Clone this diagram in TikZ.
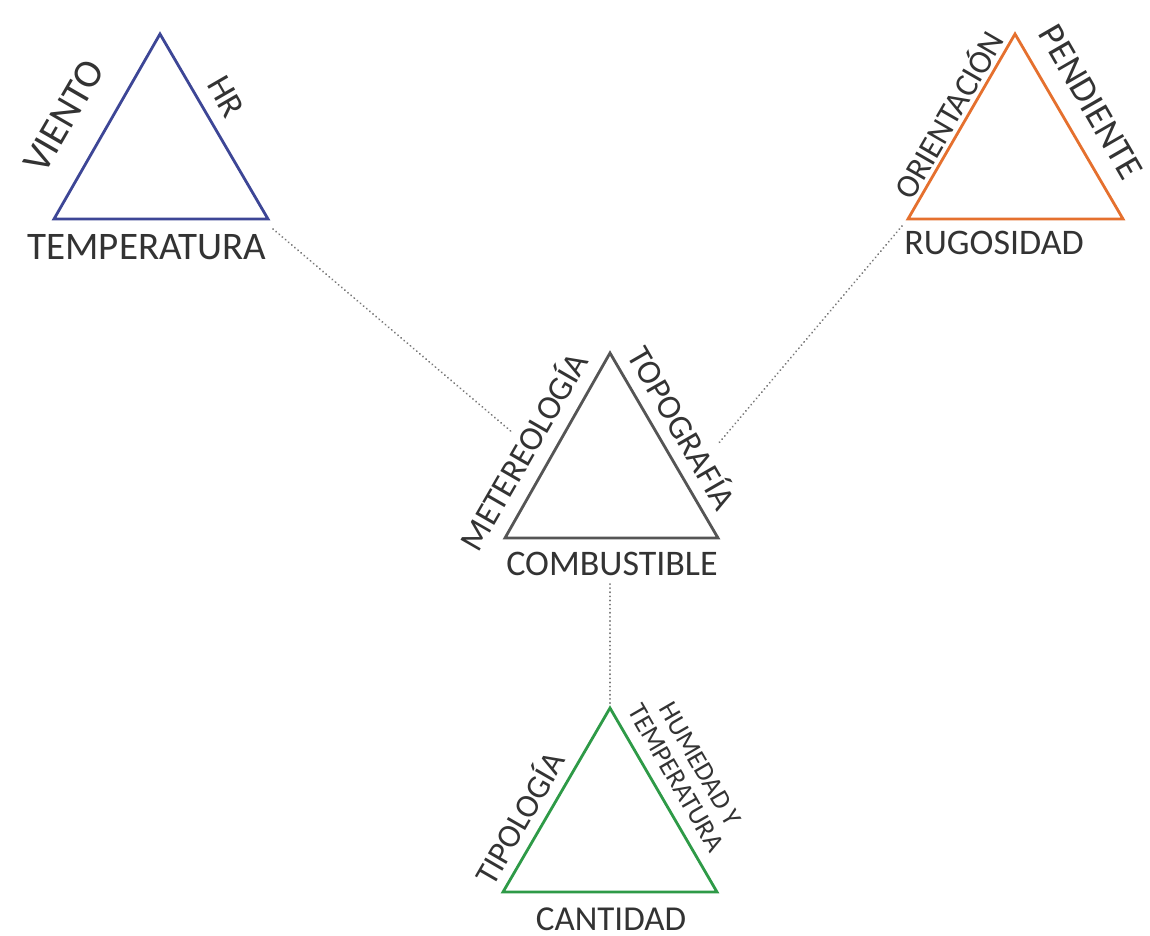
\documentclass[tikz,border=0pt]{standalone}
\usepackage{fontspec}
\setmainfont{Carlito}
\definecolor{tblue}{HTML}{3D4696}
\definecolor{torange}{HTML}{E5702E}
\definecolor{tgray}{HTML}{555555}
\definecolor{tgreen}{HTML}{2E9A47}
\definecolor{txt}{HTML}{333333}
\definecolor{tdot}{HTML}{777777}
\begin{document}
\begin{tikzpicture}[x=1pt,y=-1pt,
  tri/.style={line width=2.8pt, line join=miter},
  lbl/.style={text=txt, inner sep=0pt, font=\fontsize{#1}{#1}\selectfont},
  lbl/.default=35,
  dots/.style={draw=tdot, line width=2pt, dash pattern=on 0.1pt off 4pt, line cap=round}]
\useasboundingbox (0,0) rectangle (1150,935);
\fill[white] (0,0) rectangle (1150,935);
% vertices
\coordinate (b1) at (160,34); \coordinate (b2) at (54,219); \coordinate (b3) at (268,219);
\coordinate (o1) at (1015,34); \coordinate (o2) at (908,219); \coordinate (o3) at (1123,219);
\coordinate (g1) at (610,353); \coordinate (g2) at (505,538); \coordinate (g3) at (718,538);
\coordinate (e1) at (610,708); \coordinate (e2) at (503,892); \coordinate (e3) at (717,892);
\draw[tri, tblue] (b1) -- (b2) -- (b3) -- cycle;
\draw[tri, torange] (o1) -- (o2) -- (o3) -- cycle;
\draw[tri, tgray] (g1) -- (g2) -- (g3) -- cycle;
\draw[tri, tgreen] (e1) -- (e2) -- (e3) -- cycle;
% labels
\node[lbl=40, rotate=60] (viento) at (64,116) {VIENTO};
\node[lbl=35, rotate=-60] (hr) at (226,97) {HR};
\node[lbl=39] (temp) at (147,247) {TEMPERATURA};
\node[lbl=33, rotate=60] (orient) at (947,114) {ORIENTACIÓN};
\node[lbl=37, rotate=-60] (pend) at (1091,102) {PENDIENTE};
\node[lbl=36] (rugo) at (994,243) {RUGOSIDAD};
\node[lbl=34, rotate=60] (meteo) at (522,450) {METEREOLOGÍA};
\node[lbl=34, rotate=-60] (topo) at (684,427) {TOPOGRAFÍA};
\node[lbl=36] (comb) at (612,564) {COMBUSTIBLE};
\node[lbl=33, rotate=60] (tipo) at (518,817) {TIPOLOGÍA};
\node[lbl=27, rotate=-60, align=center] (hum) at (688,771) {HUMEDAD Y\\[1pt]TEMPERATURA};
\node[lbl=35] (cant) at (611,919) {CANTIDAD};
% connectors
\coordinate (d1a) at (273,229); \coordinate (d1b) at (513,433);
\coordinate (d2a) at (902,226); \coordinate (d2b) at (718,444);
\coordinate (d3a) at (610,584); \coordinate (d3b) at (610,704);
\draw[dots] (d1a) -- (d1b);
\draw[dots] (d2a) -- (d2b);
\draw[dots] (d3a) -- (d3b);
\end{tikzpicture}
\end{document}
